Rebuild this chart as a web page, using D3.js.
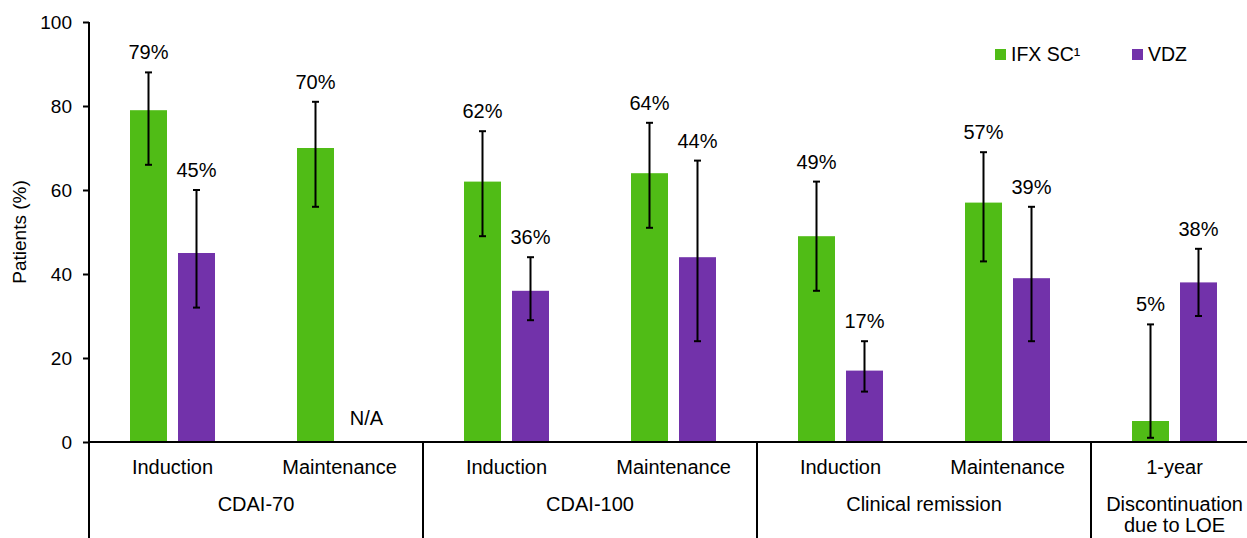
<!DOCTYPE html>
<html>
<head>
<meta charset="utf-8">
<script src="https://cdn.jsdelivr.net/npm/d3@7"></script>
<style>
  html, body { margin: 0; padding: 0; background: #fff; }
  svg { display: block; font-family: "Liberation Sans", Arial, sans-serif; }
</style>
</head>
<body>
<script>
const subLabels = ["Induction","Maintenance","Induction","Maintenance","Induction","Maintenance","1-year"]
const groupNames = [["CDAI-70"],["CDAI-100"],["Clinical remission"],["Discontinuation","due to LOE"]]
const groupSpan = [2,2,2,1]

const ifxValues = [79,70,62,64,49,57,5]
const ifxLow    = [66,56,49,51,36,43,1]
const ifxHigh   = [88,81,74,76,62,69,28]
const vdzValues = [45,null,36,44,17,39,38]
const vdzLow    = [32,null,29,24,12,24,30]
const vdzHigh   = [60,null,44,67,24,56,46]

const series = ["IFX SC¹","VDZ"]
const colors = ["#50BC16","#7232AA"]
const yTicks = [0,20,40,60,80,100]

const width = 1247, height = 538
const left = 89, slot = 167, barW = 37
const ink = "#000"

const svg = d3.select("body").append("svg")
    .attr("width", width).attr("height", height)

const x = d3.scaleBand().domain(d3.range(subLabels.length))
    .range([left, left + slot*subLabels.length])
const inner = d3.scaleBand().domain(series).range([35.5, 131.5])
const y = d3.scaleLinear().domain([0,100]).range([442,22])

// one record per bar
const bars = []
subLabels.forEach((s,i)=>{
    bars.push({i, s: series[0], v: ifxValues[i], lo: ifxLow[i], hi: ifxHigh[i], c: colors[0]})
    bars.push({i, s: series[1], v: vdzValues[i], lo: vdzLow[i], hi: vdzHigh[i], c: colors[1]})
})
const cx = d => x(d.i) + inner(d.s) + inner.bandwidth()/2

svg.append("g").selectAll("rect")
    .data(bars.filter(d=>d.v!==null))
    .join("rect")
    .attr("x", d=>cx(d)-barW/2)
    .attr("width", barW)
    .attr("y", d=>y(d.v))
    .attr("height", d=>y(0)-y(d.v))
    .attr("fill", d=>d.c)

// error bars
const eb = svg.append("g").attr("stroke",ink).attr("stroke-width",2)
    .selectAll("g").data(bars.filter(d=>d.v!==null)).join("g")
eb.append("line").attr("x1",cx).attr("x2",cx).attr("y1",d=>y(d.hi)).attr("y2",d=>y(d.lo))
eb.append("line").attr("x1",d=>cx(d)-3.5).attr("x2",d=>cx(d)+3.5).attr("y1",d=>y(d.hi)).attr("y2",d=>y(d.hi))
eb.append("line").attr("x1",d=>cx(d)-3.5).attr("x2",d=>cx(d)+3.5).attr("y1",d=>y(d.lo)).attr("y2",d=>y(d.lo))

// value labels
svg.append("g").selectAll("text")
    .data(bars)
    .join("text")
    .attr("x", d=>d.v===null ? cx(d)+3 : cx(d))
    .attr("y", d=>d.v===null ? y(0)-17 : y(d.hi)-13)
    .attr("text-anchor","middle")
    .attr("font-size",20)
    .attr("fill",ink)
    .text(d=>d.v===null ? "N/A" : d.v+"%")

// y axis
const yAxis = svg.append("g").attr("transform",`translate(${left},0)`)
    .call(d3.axisLeft(y).tickValues(yTicks).tickSize(6).tickPadding(11))
yAxis.select(".domain").remove()
yAxis.selectAll(".tick line").attr("stroke",ink).attr("stroke-width",2)
yAxis.selectAll(".tick text").attr("font-size",19).attr("fill",ink)
    .attr("font-family",'"Liberation Sans", Arial, sans-serif')
svg.append("line").attr("x1",left).attr("x2",left).attr("y1",y(100)).attr("y2",height)
    .attr("stroke",ink).attr("stroke-width",2)

svg.append("text")
    .attr("transform",`translate(26,${(y(0)+y(100))/2}) rotate(-90)`)
    .attr("text-anchor","middle").attr("font-size",19).attr("fill",ink)
    .text("Patients (%)")

// x axis baseline
svg.append("line").attr("x1",left).attr("x2",width).attr("y1",y(0)).attr("y2",y(0))
    .attr("stroke",ink).attr("stroke-width",2)

// sub labels
svg.append("g").selectAll("text")
    .data(subLabels).join("text")
    .attr("x",(d,i)=>x(i)+slot/2)
    .attr("y",474)
    .attr("text-anchor","middle").attr("font-size",20).attr("fill",ink)
    .text(d=>d)

// group labels and separators
let start = 0
groupNames.forEach((g,gi)=>{
    const x0 = x(start), x1 = x(start) + slot*groupSpan[gi]
    const t = svg.append("text")
        .attr("x",(x0+x1)/2).attr("y",511)
        .attr("text-anchor","middle").attr("font-size",20).attr("fill",ink)
    g.forEach((line,li)=>{
        t.append("tspan").attr("x",(x0+x1)/2).attr("dy", li===0?0:20.5).text(line)
    })
    start += groupSpan[gi]
    if (start < subLabels.length) {
        svg.append("line").attr("x1",x1).attr("x2",x1).attr("y1",y(0)).attr("y2",height)
            .attr("stroke",ink).attr("stroke-width",2)
    }
})

// legend
const legendX = [995, 1132]
const legend = svg.append("g").selectAll("g").data(series).join("g")
    .attr("transform",(d,i)=>`translate(${legendX[i]},49)`)
legend.append("rect").attr("width",11).attr("height",11).attr("fill",(d,i)=>colors[i])
legend.append("text").attr("x",16).attr("y",11.5).attr("font-size",19.5).attr("fill",ink)
    .text(d=>d)
</script>
</body>
</html>
